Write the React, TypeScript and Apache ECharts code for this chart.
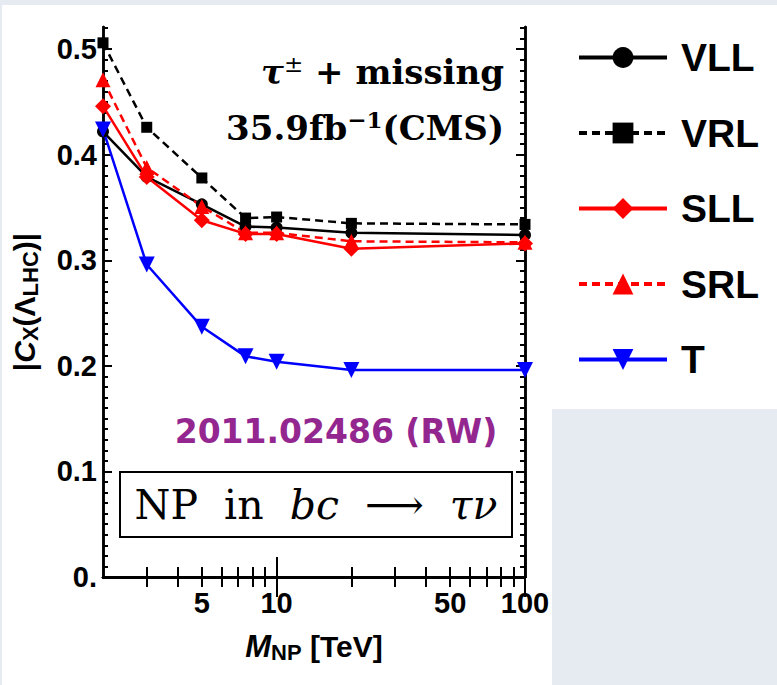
import React, { useEffect, useRef } from "react";
import * as echarts from "echarts";

const massTeV = [2, 3, 5, 7.5, 10, 20, 100];
const vllValues = [0.422, 0.379, 0.353, 0.332, 0.331, 0.326, 0.324];
const vrlValues = [0.506, 0.426, 0.378, 0.34, 0.341, 0.335, 0.334];
const sllValues = [0.446, 0.379, 0.338, 0.325, 0.325, 0.311, 0.316];
const srlValues = [0.471, 0.388, 0.351, 0.326, 0.326, 0.318, 0.317];
const tValues = [0.424, 0.296, 0.237, 0.209, 0.204, 0.196, 0.196];

const xLabelValues = [5, 10, 50, 100];
const xMinorTicks = [3, 4, 5, 6, 7, 8, 9, 20, 30, 40, 50, 60, 70, 80, 90];
const xMajorTicks = [10, 100];
const yMajorTicks = [0, 0.1, 0.2, 0.3, 0.4, 0.5];
const yMinorTicks = Array.from({ length: 52 }, (_, i) => i + 1)
  .filter((k) => k % 10 !== 0)
  .map((k) => k / 100);

const X_MIN = 2;
const X_MAX = 100;
const Y_MIN = 0;
const Y_MAX = 0.521;

const pair = (ys: number[]) => massTeV.map((m, i) => [m, ys[i]]);

export default function App() {
  const ref = useRef<HTMLDivElement>(null);
  useEffect(() => {
    if (!ref.current) return;
    const chart = echarts.init(ref.current, null, { renderer: "svg" });
    const tickLine = { color: "#000", width: 2 };
    const sans = "'Liberation Sans', Arial, sans-serif";
    const serif = "'DejaVu Serif', serif";
    const mkX = (pos: string, ticks: number[], len: number, main: boolean) => ({
      type: "log",
      logBase: 10,
      min: X_MIN,
      max: X_MAX,
      position: pos,
      gridIndex: 0,
      axisLine: { show: true, lineStyle: { color: "#000", width: 2.5 } },
      axisTick: { show: true, inside: true, length: len, lineStyle: tickLine, customValues: ticks },
      axisLabel: main
        ? {
            show: true,
            customValues: xLabelValues,
            margin: 11,
            color: "#000",
            fontSize: 29,
            fontWeight: "bold",
            fontFamily: sans,
            formatter: (v: number) => String(Math.round(v)),
          }
        : { show: false },
      splitLine: { show: false },
      minorTick: { show: false },
      ...(main
        ? {
            name: "{mi|M}{sub|NP}{n| [TeV]}",
            nameLocation: "middle",
            nameGap: 52,
            nameTextStyle: {
              color: "#000",
              rich: {
                mi: { fontSize: 31, fontWeight: "bold", fontStyle: "italic", fontFamily: sans, lineHeight: 34, verticalAlign: "middle" },
                sub: { fontSize: 22, fontWeight: "bold", fontFamily: sans, lineHeight: 20, verticalAlign: "bottom" },
                n: { fontSize: 30, fontWeight: "bold", fontFamily: sans, lineHeight: 34, verticalAlign: "middle" },
              },
            },
          }
        : {}),
    });
    const mkY = (pos: string, ticks: number[], len: number, main: boolean) => ({
      type: "value",
      min: Y_MIN,
      max: Y_MAX,
      position: pos,
      gridIndex: 0,
      axisLine: { show: true, lineStyle: { color: "#000", width: 2.5 } },
      axisTick: { show: true, inside: true, length: len, lineStyle: tickLine, customValues: ticks },
      axisLabel: main
        ? {
            show: true,
            customValues: yMajorTicks,
            margin: 6,
            color: "#000",
            fontSize: 29,
            fontWeight: "bold",
            fontFamily: sans,
            formatter: (v: number) => (v === 0 ? "0." : v.toFixed(1)),
          }
        : { show: false },
      splitLine: { show: false },
      ...(main
        ? {
            name: "{n||}{ci|C}{sub|X}{n|(Λ}{sub|LHC}{n|)|}",
            nameLocation: "middle",
            nameRotate: 90,
            nameGap: 62,
            nameTextStyle: {
              color: "#000",
              rich: {
                ci: { fontSize: 30, fontStyle: "italic", fontWeight: "bold", fontFamily: sans, lineHeight: 34, verticalAlign: "middle" },
                sub: { fontSize: 22, fontWeight: "bold", fontFamily: sans, lineHeight: 20, verticalAlign: "bottom" },
                n: { fontSize: 30, fontWeight: "bold", fontFamily: sans, lineHeight: 34, verticalAlign: "middle" },
              },
            },
          }
        : {}),
    });

    const mkSeries = (name: string, ys: number[], color: string, dashed: boolean, symbol: string, size: number, rotate = 0) => ({
      name,
      type: "line",
      xAxisIndex: 0,
      yAxisIndex: 0,
      data: pair(ys),
      symbol,
      symbolSize: size,
      symbolRotate: rotate,
      showAllSymbol: true,
      lineStyle: { color, width: 2.5, type: dashed ? [8, 5] : "solid" },
      itemStyle: { color },
      emphasis: { disabled: true },
    });

    chart.setOption({
      animation: false,
      backgroundColor: "transparent",
      grid: { left: 103, top: 27, width: 422, height: 550, containLabel: false },
      xAxis: [
        mkX("bottom", xMinorTicks, 10, true),
        mkX("bottom", xMajorTicks, 20, false),
        mkX("top", xMinorTicks, 10, false),
        mkX("top", xMajorTicks, 20, false),
      ],
      yAxis: [
        mkY("left", yMajorTicks, 9, true),
        mkY("left", yMinorTicks, 5, false),
        mkY("right", yMajorTicks, 9, false),
        mkY("right", yMinorTicks, 5, false),
      ],
      legend: {
        orient: "vertical",
        left: 572,
        top: 33,
        itemWidth: 88,
        itemHeight: 26,
        itemGap: 36.5,
        selectedMode: false,
        lineStyle: { width: 4 },
        textStyle: { color: "#000", fontSize: 39, fontWeight: "bold", fontFamily: sans, padding: [0, 0, 0, 9] },
        data: ["VLL", "VRL", "SLL", "SRL", "T"],
      },
      series: [
        mkSeries("VLL", vllValues, "#000000", false, "circle", 12),
        mkSeries("VRL", vrlValues, "#000000", true, "rect", 11),
        mkSeries("SLL", sllValues, "#ff0000", false, "diamond", 16),
        mkSeries("SRL", srlValues, "#ff0000", true, "triangle", 15),
        mkSeries("T", tValues, "#0000ff", false, "triangle", 16, 180),
      ],
      graphic: [
        { type: "rect", z: -10, silent: true, shape: { x: 2, y: 5, width: 775, height: 404 }, style: { fill: "#ffffff" } },
        { type: "rect", z: -10, silent: true, shape: { x: 2, y: 5, width: 550, height: 680 }, style: { fill: "#ffffff" } },
        {
          type: "text",
          right: 777 - 504,
          top: 52,
          style: {
            text: "{t|τ}{sup|±}{n| + missing}",
            fill: "#000",
            rich: {
              t: { fontSize: 34, fontStyle: "italic", fontWeight: "bold", fontFamily: serif, lineHeight: 40, verticalAlign: "middle" },
              sup: { fontSize: 23, fontFamily: serif, lineHeight: 24, verticalAlign: "top" },
              n: { fontSize: 34, fontWeight: "bold", fontFamily: serif, lineHeight: 40, verticalAlign: "middle" },
            },
          },
        },
        {
          type: "text",
          right: 777 - 504,
          top: 108,
          style: {
            text: "{n|35.9fb}{sup|−1}{n|(CMS)}",
            fill: "#000",
            rich: {
              n: { fontSize: 34, fontWeight: "bold", fontFamily: serif, lineHeight: 40, verticalAlign: "middle" },
              sup: { fontSize: 23, fontWeight: "bold", fontFamily: serif, lineHeight: 24, verticalAlign: "top" },
            },
          },
        },
        {
          type: "text",
          x: 336,
          y: 431,
          style: {
            text: "2011.02486 (RW)",
            fill: "#93278f",
            fontSize: 33,
            fontWeight: "bold",
            fontFamily: "'DejaVu Sans', sans-serif",
            align: "center",
            verticalAlign: "middle",
          },
        },
        {
          type: "rect",
          shape: { x: 120, y: 472, width: 392, height: 65 },
          style: { fill: "#ffffff", stroke: "#000", lineWidth: 2 },
        },
        {
          type: "text",
          x: 316,
          y: 505,
          style: {
            text: "{r|NP  in  }{i|bc}{r|  ⟶  }{i|τν}",
            fill: "#000",
            align: "center",
            verticalAlign: "middle",
            rich: {
              r: { fontSize: 41, fontFamily: serif },
              i: { fontSize: 41, fontFamily: serif, fontStyle: "italic" },
            },
          },
        },
      ],
    });
    return () => chart.dispose();
  }, []);

  return (
    <div style={{ position: "fixed", left: 0, top: 0, width: 777, height: 685, background: "#e6ebf2" }}>
      <div ref={ref} style={{ width: 777, height: 685 }} />
    </div>
  );
}
